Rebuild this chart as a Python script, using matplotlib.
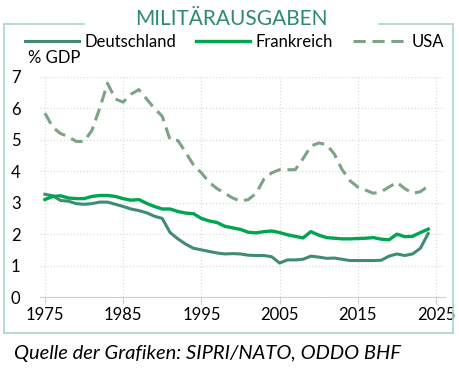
import matplotlib
matplotlib.use("Agg")
import matplotlib.pyplot as plt
from matplotlib.lines import Line2D

plt.rcParams['font.family'] = ['Lato', 'DejaVu Sans']

# Militärausgaben in % des BIP
years = list(range(1975, 2025))
deutschland = [3.27, 3.22, 3.07, 3.05, 2.97, 2.95, 2.97, 3.02, 3.02, 2.95,
               2.88, 2.80, 2.75, 2.68, 2.57, 2.50, 2.05, 1.85, 1.68, 1.55,
               1.50, 1.45, 1.40, 1.37, 1.38, 1.37, 1.33, 1.32, 1.32, 1.28,
               1.08, 1.18, 1.18, 1.20, 1.30, 1.27, 1.23, 1.24, 1.20, 1.16,
               1.16, 1.16, 1.16, 1.17, 1.30, 1.37, 1.32, 1.37, 1.55, 2.02]
frankreich = [3.10, 3.20, 3.22, 3.15, 3.13, 3.13, 3.20, 3.23, 3.23, 3.20,
              3.13, 3.08, 3.10, 2.98, 2.88, 2.80, 2.80, 2.72, 2.67, 2.65,
              2.50, 2.42, 2.37, 2.25, 2.20, 2.15, 2.06, 2.04, 2.08, 2.10,
              2.05, 1.98, 1.93, 1.88, 2.08, 1.97, 1.89, 1.87, 1.85, 1.85,
              1.86, 1.87, 1.89, 1.84, 1.82, 2.00, 1.92, 1.93, 2.05, 2.16]
usa = [5.85, 5.40, 5.20, 5.10, 4.95, 4.95, 5.30, 6.00, 6.80, 6.30,
       6.20, 6.45, 6.60, 6.30, 6.00, 5.75, 5.00, 4.98, 4.60, 4.20,
       3.95, 3.65, 3.45, 3.30, 3.15, 3.05, 3.10, 3.30, 3.75, 3.95,
       4.05, 4.05, 4.05, 4.40, 4.80, 4.90, 4.85, 4.55, 4.05, 3.70,
       3.50, 3.40, 3.30, 3.35, 3.50, 3.65, 3.45, 3.30, 3.35, 3.53]

xticks = [1975, 1985, 1995, 2005, 2015, 2025]
yticks = [0, 1, 2, 3, 4, 5, 6, 7]

c_de = '#3f8c73'
c_fr = '#00a54f'
c_us = '#7ca383'
c_title = '#2f8a6c'
c_frame = '#a6d6c6'

fig = plt.figure(figsize=(4.59, 3.75), dpi=100)
ax = fig.add_axes([0.087, 0.208, 0.8825, 0.5867])

ax.plot(years, deutschland, color=c_de, lw=2.2, label='Deutschland')
ax.plot(years, frankreich, color=c_fr, lw=2.4, label='Frankreich')
ax.plot(years, usa, color=c_us, lw=2.2, ls=(0, (4, 2.2)), label='USA')

ax.set_xlim(1974.36, 2026.15)
ax.set_ylim(0, 7)
ax.set_xticks(xticks)
ax.set_yticks(yticks)
ax.grid(True, color='#dddddd', ls=':', lw=0.9)
ax.set_axisbelow(True)
for s in ['top', 'right', 'left']:
    ax.spines[s].set_visible(False)
ax.spines['bottom'].set_color('#d0d0d0')
ax.tick_params(axis='x', length=5, color='#d0d0d0', labelsize=12, pad=2)
ax.tick_params(axis='y', length=0, labelsize=12, pad=14)

# Rahmen um die Grafik, oben durch den Titel unterbrochen
W, H = 459, 375
def fx(px):
    return px / W
def fy(py):
    return 1 - py / H
frame = dict(color=c_frame, lw=1.2, transform=fig.transFigure)
fig.add_artist(Line2D([fx(4), fx(4)], [fy(24), fy(333)], **frame))
fig.add_artist(Line2D([fx(453), fx(453)], [fy(24), fy(333)], **frame))
fig.add_artist(Line2D([fx(4), fx(453)], [fy(333), fy(333)], **frame))
fig.add_artist(Line2D([fx(4), fx(84)], [fy(24), fy(24)], **frame))
fig.add_artist(Line2D([fx(379), fx(453)], [fy(24), fy(24)], **frame))

fig.text(fx(231), fy(19), 'MILITÄRAUSGABEN', color=c_title, fontsize=15,
         ha='center', va='center')
fig.text(fx(28), fy(58), '% GDP', fontsize=12, ha='left', va='center')

fig.legend(loc='center', bbox_to_anchor=(fx(235), fy(42)), ncol=3, frameon=False,
           fontsize=12, handlelength=3.2, handletextpad=0.35, columnspacing=1.2,
           borderaxespad=0, borderpad=0)

fig.text(fx(14), fy(353), 'Quelle der Grafiken: SIPRI/NATO, ODDO BHF',
         fontsize=14.5, style='italic', ha='left', va='center')

fig.savefig('out.png', dpi=100)
